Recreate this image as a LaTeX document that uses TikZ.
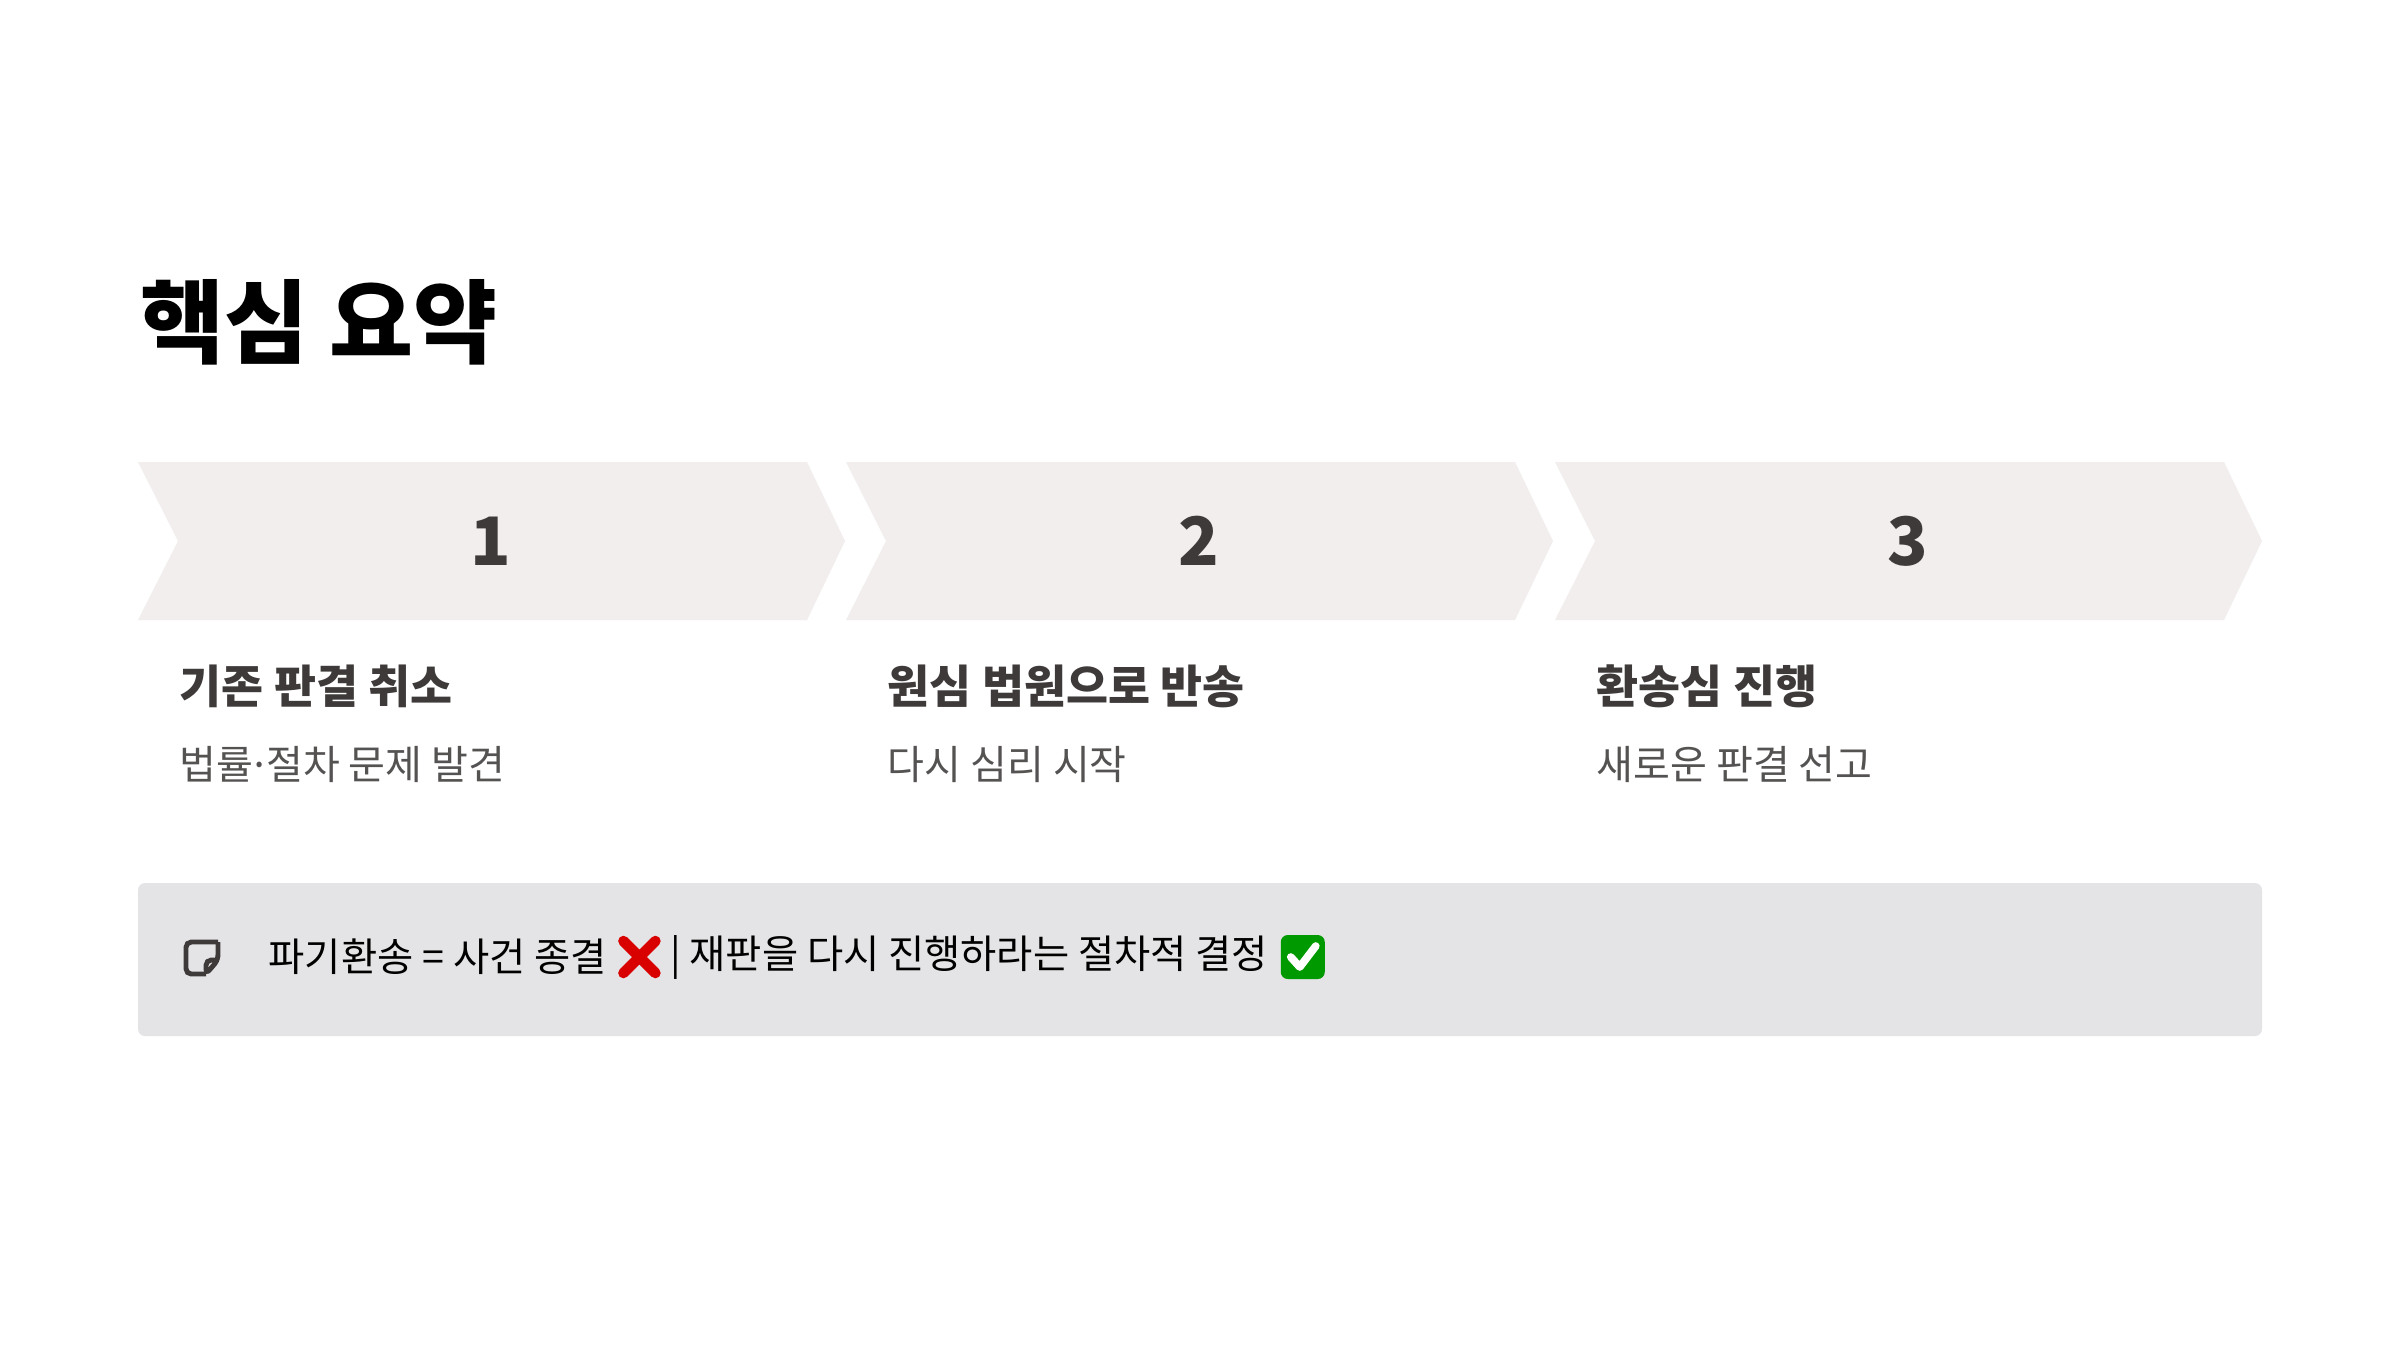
\documentclass[tikz,border=0pt]{standalone}
\usepackage{fontspec}
\setmainfont{Noto Sans CJK KR}
\newfontfamily\kr{Noto Sans CJK KR}
\begin{document}
\begin{tikzpicture}[x=1cm,y=-1cm,
  chev/.style={fill=chevfill,draw=none},
  num/.style={font=\kr\fontsize{19}{22}\selectfont\bfseries,text=darktxt},
  head/.style={font=\kr\fontsize{13}{16}\selectfont\bfseries,text=darktxt,anchor=west,inner sep=0},
  sub/.style={font=\kr\fontsize{11.4}{14}\selectfont,text=graytxt,anchor=west,inner sep=0},
  note/.style={font=\kr\fontsize{11.2}{14}\selectfont,text=black,anchor=west,inner sep=0}]
\definecolor{chevfill}{HTML}{F1EEED}
\definecolor{darktxt}{HTML}{3D3A39}
\definecolor{graytxt}{HTML}{555252}
\definecolor{boxfill}{HTML}{E4E4E6}
\useasboundingbox[fill=white] (0,0) rectangle (24,13.5);
\node[anchor=west,inner sep=0,font=\kr\fontsize{26}{30}\selectfont\bfseries] (title) at (1.40,3.22) {핵심 요약};
\foreach \i/\x/\n/\h/\s in {1/1.38/1/기존 판결 취소/법률{\kern-0.12em}·{\kern-0.12em}절차 문제 발견,2/8.46/2/원심 법원으로 반송/다시 심리 시작,3/15.55/3/환송심 진행/새로운 판결 선고}{
  \fill[chev] (\x,4.62) -- ++(6.69,0) -- ++(0.38,0.79) -- ++(-0.38,0.79) -- ++(-6.69,0) -- ++(0.4,-0.79) -- cycle;
  \node[num] (n\i) at (\x+3.53,5.41) {\n};
  \node[head] (h\i) at (\x+0.41,6.86) {\h};
  \node[sub] (s\i) at (\x+0.41,7.64) {\s};
}
\fill[boxfill,rounded corners=2pt] (1.38,8.83) rectangle (22.62,10.36);
% note icon
\draw[line width=1.4pt,darktxt,rounded corners=1.5pt] (2.18,9.42) -- (1.86,9.42) -- (1.86,9.74) -- (2.06,9.74);
\draw[line width=1.4pt,darktxt,rounded corners=1.5pt] (2.18,9.42) -- (2.18,9.60) -- (2.06,9.74) -- (2.06,9.60) -- (2.18,9.60);
\node[note] (t1) at (2.68,9.57) {파기환송 = 사건 종결};
\coordinate (xc) at ([xshift=0.32cm]t1.east);
\draw[line width=3pt,red!85!black,line cap=round] ([shift={(-0.16,-0.16)}]xc) -- ([shift={(0.16,0.16)}]xc) ([shift={(-0.16,0.16)}]xc) -- ([shift={(0.16,-0.16)}]xc);
\node[note] (t2) at ([xshift=0.62cm]t1.east) {| 재판을 다시 진행하라는 절차적 결정};
\coordinate (cc) at ([xshift=0.34cm]t2.east);
\fill[green!60!black,rounded corners=2pt] ([shift={(-0.22,-0.22)}]cc) rectangle ([shift={(0.22,0.22)}]cc);
\draw[white,line width=2.2pt,line cap=round,line join=round] ([shift={(-0.12,0.0)}]cc) -- ([shift={(-0.03,0.1)}]cc) -- ([shift={(0.13,-0.11)}]cc);
\end{tikzpicture}
\end{document}
